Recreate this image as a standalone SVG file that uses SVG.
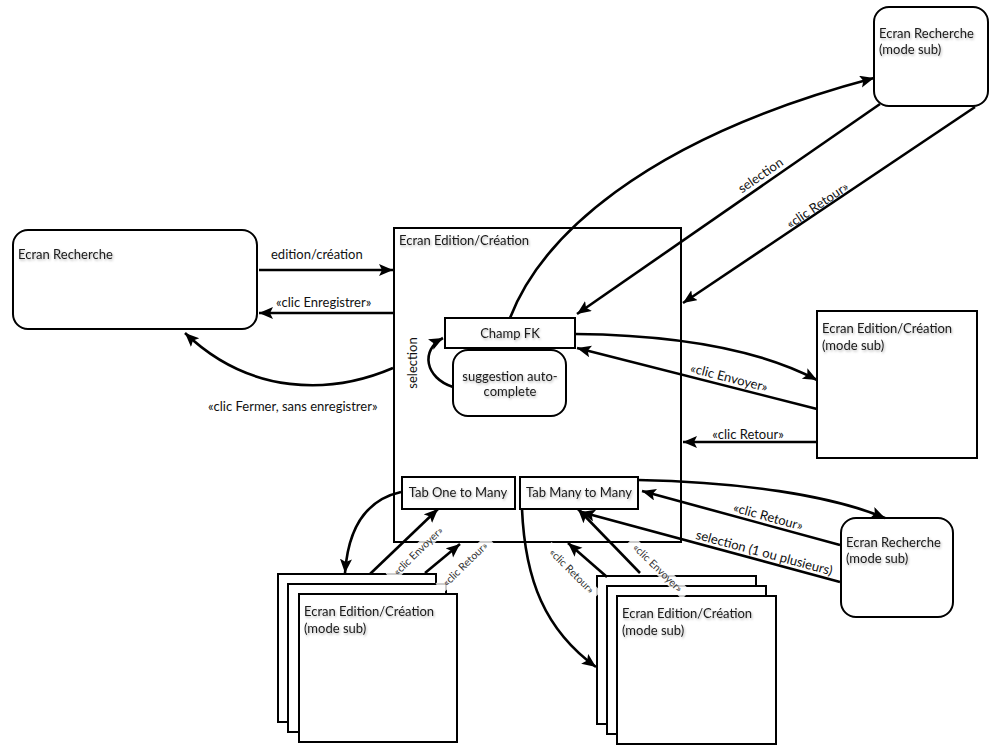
<svg xmlns="http://www.w3.org/2000/svg" width="1002" height="753" viewBox="0 0 1002 753">
<style>
.box{fill:#fff;stroke:#000;stroke-width:2}
.nt{font-family:Lato,"Open Sans","Liberation Sans",sans-serif;font-size:13px;fill:#1a1a1a;filter:url(#sh)}
.lb{font-family:Lato,"Open Sans","Liberation Sans",sans-serif;font-size:13px;fill:#111}
.sm{font-family:Lato,"Open Sans","Liberation Sans",sans-serif;font-size:10.5px;fill:#333}
.c{fill:none;stroke:#000;stroke-width:2.6;marker-end:url(#ah)}
.bg{fill:#fff;fill-opacity:0.8}
</style>
<defs>
<marker id="ah" markerUnits="userSpaceOnUse" markerWidth="16" markerHeight="14" refX="14" refY="6" orient="auto">
<path d="M0,0 L14,6 L0,12 L3,6 z" fill="#000"/>
</marker>
<filter id="sh" x="-10%" y="-30%" width="130%" height="180%">
<feDropShadow dx="1" dy="1.5" stdDeviation="1.2" flood-color="#000" flood-opacity="0.3"/>
</filter>
</defs>

<g id="ecran-recherche">
<rect class="box" x="13" y="230" width="244" height="99" rx="15"/>
<text class="nt" x="18" y="259">Ecran Recherche</text>
</g>

<g id="ecran-recherche-sub-top">
<rect class="box" x="874" y="7" width="114" height="99" rx="15"/>
<text class="nt" x="879" y="38">Ecran Recherche</text>
<text class="nt" x="879" y="54">(mode sub)</text>
</g>

<g id="ecran-edition">
<rect class="box" x="394" y="228" width="287" height="314"/>
<text class="nt" x="399" y="245">Ecran Edition/Création</text>
</g>

<g id="champ-fk">
<rect class="box" x="445" y="318" width="130" height="30"/>
<text class="nt" x="510" y="338" text-anchor="middle">Champ FK</text>
</g>

<g id="suggestion">
<rect class="box" x="453" y="350" width="113" height="66" rx="15"/>
<text class="nt" x="510" y="381" text-anchor="middle">suggestion auto-</text>
<text class="nt" x="510" y="396" text-anchor="middle">complete</text>
</g>

<g id="tab-one-to-many">
<rect class="box" x="402" y="477" width="113" height="32"/>
<text class="nt" x="458" y="497" text-anchor="middle">Tab One to Many</text>
</g>

<g id="tab-many-to-many">
<rect class="box" x="520" y="477" width="118" height="32"/>
<text class="nt" x="579" y="497" text-anchor="middle">Tab Many to Many</text>
</g>

<g id="ecran-edition-sub-right">
<rect class="box" x="817" y="311" width="160" height="147"/>
<text class="nt" x="822" y="333">Ecran Edition/Création</text>
<text class="nt" x="822" y="350">(mode sub)</text>
</g>

<g id="ecran-recherche-sub-bottom">
<rect class="box" x="841" y="518" width="112" height="99" rx="15"/>
<text class="nt" x="846" y="547">Ecran Recherche</text>
<text class="nt" x="846" y="563">(mode sub)</text>
</g>

<g id="stack-left">
<rect class="box" x="278" y="574" width="158" height="148"/>
<rect class="box" x="288" y="584" width="158" height="148"/>
<rect class="box" x="299" y="594" width="158" height="148"/>
<text class="nt" x="304" y="616">Ecran Edition/Création</text>
<text class="nt" x="304" y="633">(mode sub)</text>
</g>

<g id="stack-right">
<rect class="box" x="597" y="576" width="159" height="148"/>
<rect class="box" x="607" y="586" width="159" height="148"/>
<rect class="box" x="617" y="596" width="159" height="148"/>
<text class="nt" x="622" y="618">Ecran Edition/Création</text>
<text class="nt" x="622" y="635">(mode sub)</text>
</g>

<g id="connectors">
<path class="c" d="M259,270 L393,270"/>
<path class="c" d="M393,313 L259,313"/>
<path class="c" d="M393,368 C330,395 250,395 185,333"/>
<path class="c" d="M453,387 C425,378 420,350 443,338"/>
<path class="c" d="M510,318 C540,240 640,140 874,78"/>
<path class="c" d="M880,104 L577,314"/>
<path class="c" d="M975,107 L683,303"/>
<path class="c" d="M575,334 C680,335 760,350 817,380"/>
<path class="c" d="M817,409 L577,348"/>
<path class="c" d="M817,442 L683,442"/>
<path class="c" d="M401,492 C365,500 348,530 345,573"/>
<path class="c" d="M370,574 L438,509"/>
<path class="c" d="M425,573 L460,544"/>
<path class="c" d="M522,509 C525,580 545,630 596,667"/>
<path class="c" d="M607,577 L568,543"/>
<path class="c" d="M640,573 L578,509"/>
<path class="c" d="M638,480 C740,482 830,495 885,518"/>
<path class="c" d="M840,545 L642,491"/>
<path class="c" d="M840,582 L581,512"/>

<text class="lb" x="271" y="259">edition/création</text>
<text class="lb" x="276" y="307">«clic Enregistrer»</text>
<text class="lb" x="208" y="411">«clic Fermer, sans enregistrer»</text>
<text class="lb" x="0" y="0" text-anchor="middle" transform="translate(417,363) rotate(-90)">selection</text>
<text class="lb" x="0" y="0" text-anchor="middle" transform="translate(763,179) rotate(-34.6)">selection</text>
<text class="lb" x="0" y="0" text-anchor="middle" transform="translate(820,209) rotate(-34)">«clic Retour»</text>
<text class="lb" x="0" y="0" text-anchor="middle" transform="translate(728,382) rotate(14.3)">«clic Envoyer»</text>
<text class="lb" x="748" y="439" text-anchor="middle">«clic Retour»</text>
<text class="lb" x="0" y="0" text-anchor="middle" transform="translate(767,521) rotate(15.3)">«clic Retour»</text>
<text class="lb" x="0" y="0" text-anchor="middle" transform="translate(763,557) rotate(15.1)">selection (1 ou plusieurs)</text>

<g transform="translate(420,553) rotate(-44)">
<rect class="bg" x="-39" y="-9" width="78" height="12"/>
<text class="sm" x="0" y="1" text-anchor="middle">«clic Envoyer»</text>
</g>
<g transform="translate(467,566) rotate(-44)">
<rect class="bg" x="-35" y="-9" width="70" height="12"/>
<text class="sm" x="0" y="1" text-anchor="middle">«clic Retour»</text>
</g>
<g transform="translate(570,573) rotate(45)">
<rect class="bg" x="-35" y="-9" width="70" height="12"/>
<text class="sm" x="0" y="1" text-anchor="middle">«clic Retour»</text>
</g>
<g transform="translate(656,570) rotate(44)">
<rect class="bg" x="-39" y="-9" width="78" height="12"/>
<text class="sm" x="0" y="1" text-anchor="middle">«clic Envoyer»</text>
</g>
</g>
</svg>
